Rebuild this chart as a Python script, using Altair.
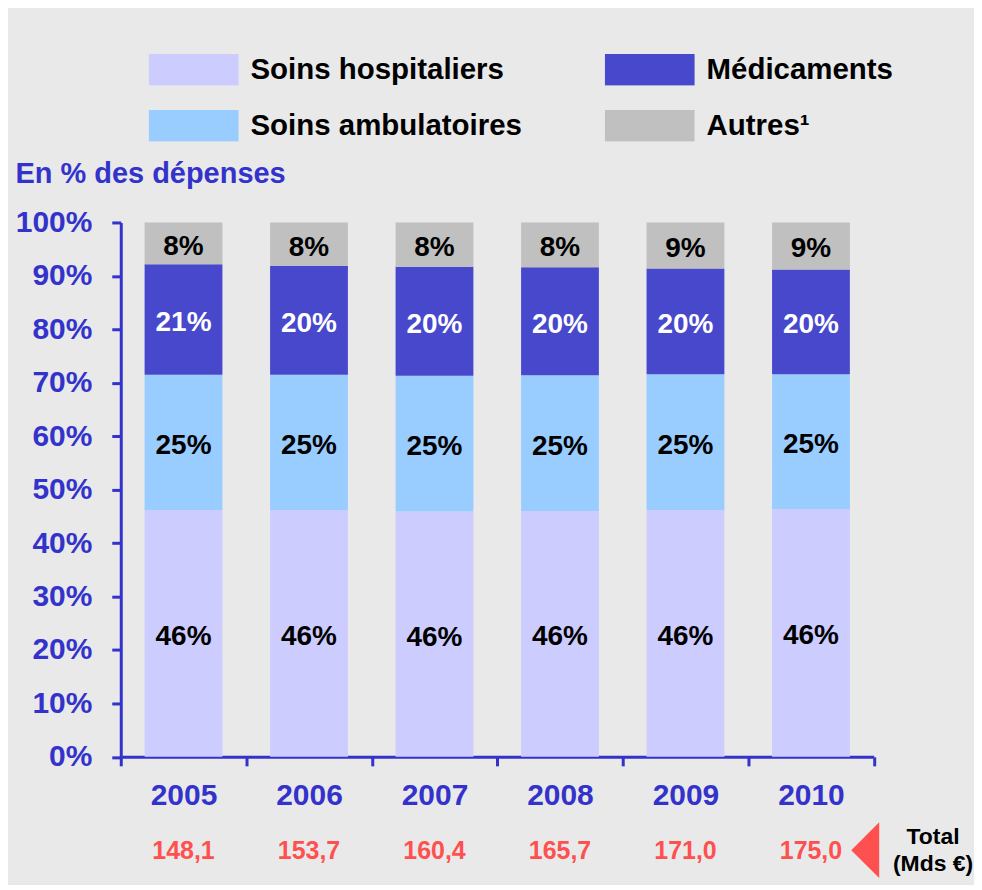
import altair as alt
import pandas as pd

years = ["2005", "2006", "2007", "2008", "2009", "2010"]
categories = ["Soins hospitaliers", "Soins ambulatoires", "Médicaments", "Autres¹"]
hosp = [46.2, 46.2, 45.9, 46.0, 46.2, 46.4]
amb = [25.3, 25.3, 25.4, 25.4, 25.4, 25.2]
med = [20.7, 20.4, 20.4, 20.2, 19.8, 19.6]
autres = [7.8, 8.1, 8.3, 8.4, 8.6, 8.8]
totals = ["148,1", "153,7", "160,4", "165,7", "171,0", "175,0"]
legend_order = ["Soins hospitaliers", "Soins ambulatoires", "Médicaments", "Autres¹"]
legend_colors = ["#ccccff", "#99ccff", "#4848cc", "#c0c0c0"]
label_colors = {"Soins hospitaliers": "black", "Soins ambulatoires": "black",
                "Médicaments": "white", "Autres¹": "black"}
ytick_values = [0, 10, 20, 30, 40, 50, 60, 70, 80, 90, 100]
total_caption = "Total\n(Mds €)"

FONT = "Liberation Sans"
BLUE = "#3333cc"
RED = "#ff5050"

rows = []
for i, yr in enumerate(years):
    base = 0.0
    for k, (cat, vals) in enumerate(zip(categories, [hosp, amb, med, autres])):
        v = vals[i]
        rows.append(dict(year=yr, cat=cat, value=v, start=base, end=base + v,
                         mid=base + v / 2, order=k, label=f"{v:.0f}%",
                         txtcolor=label_colors[cat]))
        base += v
df = pd.DataFrame(rows)
df_tot = pd.DataFrame({"year": years, "total": totals})
df_one = pd.DataFrame({"caption": [total_caption]})

xscale = alt.Scale(paddingInner=0, paddingOuter=0)
xenc = alt.X("year:N", scale=xscale,
             axis=alt.Axis(title=None, labelAngle=0, tickBand="extent", labelPadding=15))

bars = alt.Chart(df).mark_bar(width=alt.RelativeBandSize(0.62)).encode(
    x=xenc,
    y=alt.Y("start:Q", scale=alt.Scale(domain=[0, 100], nice=False),
            axis=alt.Axis(values=ytick_values, labelExpr="datum.value + '%'",
                          title="En % des dépenses", titleAngle=0, titleAlign="left",
                          titleBaseline="alphabetic", titleX=-106, titleY=-40,
                          titleFontSize=29, titleColor=BLUE, titleFontWeight="bold",
                          titleFont=FONT, labelPadding=20)),
    y2="end:Q",
    color=alt.Color("cat:N", scale=alt.Scale(domain=legend_order, range=legend_colors),
                    legend=alt.Legend(orient="none", legendX=28, legendY=-169, columns=2,
                                      title=None, symbolType="M-1,-0.35L1,-0.35L1,0.35L-1,0.35Z",
                                      symbolSize=8100, symbolStrokeWidth=0, symbolOpacity=1,
                                      labelFont=FONT, labelFontSize=29.5, labelFontWeight="bold",
                                      labelColor="black", labelOffset=12, columnPadding=82,
                                      rowPadding=24, clipHeight=32, padding=0, labelLimit=500)),
)

texts = alt.Chart(df).mark_text(font=FONT, fontSize=28, fontWeight="bold",
                                baseline="middle", dy=3.5).encode(
    x=alt.X("year:N", scale=xscale),
    y=alt.Y("mid:Q"),
    text="label:N",
    color=alt.Color("txtcolor:N", scale=None),
)

tot = alt.Chart(df_tot).mark_text(font=FONT, fontSize=25, fontWeight="bold",
                                  baseline="middle", color=RED).encode(
    x=alt.X("year:N", scale=xscale),
    y=alt.value(630),
    text="total:N",
)

tri = alt.Chart(df_one).mark_point(shape="M-1,0L1,-2L1,2Z", filled=True, size=784,
                                   color=RED, opacity=1, strokeWidth=0).encode(
    x=alt.value(746), y=alt.value(629))

cap = alt.Chart(df_one).mark_text(font=FONT, fontSize=23, fontWeight="bold", align="center",
                                  baseline="alphabetic", lineBreak="\n", lineHeight=27,
                                  color="black").encode(
    x=alt.value(814), y=alt.value(623), text="caption:N")

chart = alt.layer(bars, texts, tot, tri, cap).properties(
    width=754.5, height=535.5,
    autosize=alt.AutoSizeParams(type="none"),
    padding={"left": 113, "top": 214, "right": 100.5, "bottom": 127.5},
    background="#e9e9e9",
).configure_view(stroke=None).configure_axis(
    domainColor=BLUE, domainWidth=3, tickColor=BLUE, tickWidth=3, tickSize=9,
    labelColor=BLUE, labelFont=FONT, labelFontSize=30, labelFontWeight="bold",
    grid=False, zindex=1,
)

chart.save("out.html", embed_options={"renderer": "svg", "actions": False})
